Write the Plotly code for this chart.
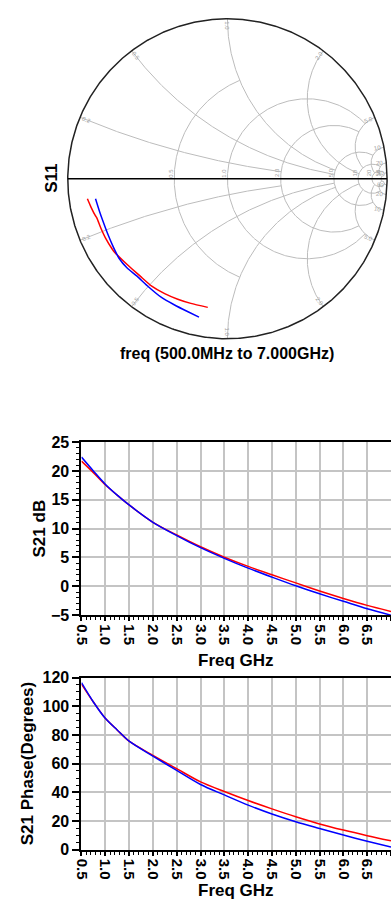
import numpy as np
import plotly.graph_objects as go

# ---------------- data ----------------
# S11 reflection coefficient (real / imaginary part), 500 MHz -> 7 GHz
s11_red_re = [-0.877, -0.853, -0.827, -0.818, -0.791, -0.765, -0.720, -0.704,
              -0.648, -0.597, -0.546, -0.474, -0.393, -0.311, -0.229, -0.123]
s11_red_im = [-0.125, -0.180, -0.231, -0.245, -0.313, -0.368, -0.442, -0.462,
              -0.517, -0.564, -0.609, -0.671, -0.718, -0.753, -0.779, -0.804]
s11_blue_re = [-0.826, -0.802, -0.777, -0.750, -0.720, -0.679, -0.628,
               -0.566, -0.495, -0.413, -0.331, -0.250, -0.178]
s11_blue_im = [-0.125, -0.201, -0.272, -0.344, -0.415, -0.497, -0.558,
               -0.609, -0.675, -0.742, -0.789, -0.830, -0.865]

freq_ghz = [0.5, 0.75, 1.0, 1.25, 1.5, 2.0, 2.5, 3.0, 3.5, 4.0, 4.5, 5.0, 5.5, 6.0, 6.5, 7.0]
s21_db_red = [21.7, 19.7, 17.6, 15.8, 14.1, 11.1, 8.9, 6.85, 5.05, 3.45, 2.0, 0.6, -0.8, -2.1, -3.3, -4.35]
s21_db_blue = [22.4, 20.0, 17.7, 15.8, 14.1, 11.1, 8.8, 6.7, 4.85, 3.15, 1.6, 0.1, -1.3, -2.6, -3.9, -5.0]
s21_ph_red = [115.5, 103.0, 91.6, 83.5, 75.7, 65.8, 56.5, 47.3, 40.6, 34.3, 28.5, 23.0, 18.0, 13.7, 9.8, 6.2]
s21_ph_blue = [116.5, 103.0, 91.6, 83.5, 75.7, 65.3, 55.3, 45.5, 38.2, 31.1, 24.9, 19.5, 14.8, 10.2, 5.9, 1.8]

freq_ticks = [0.5, 1.0, 1.5, 2.0, 2.5, 3.0, 3.5, 4.0, 4.5, 5.0, 5.5, 6.0, 6.5, 7.0]
freq_tick_labels = ["0.5", "1.0", "1.5", "2.0", "2.5", "3.0", "3.5", "4.0",
                    "4.5", "5.0", "5.5", "6.0", "6.5", "7.0"]
db_ticks = [-5, 0, 5, 10, 15, 20, 25]
ph_ticks = [0, 20, 40, 60, 80, 100, 120]

# Smith grid: resistance circles / reactance arcs and their clipping limits
smith_r = [0.5, 1, 2, 5, 10, 20, 50]
smith_r_xmax = [1, 5, 5, 10, 20, 50, 50]
smith_r_text = ["0.5", "1.0", "2.0", "5.0", "10", "20", "50"]
smith_x = [0.2, 0.5, 1, 2, 5, 10, 20, 50]
smith_x_rmax = [2, 5, 5, 10, 10, 20, 50, 50]
smith_x_text = ["0.2", "0.5", "1.0", "2.0", "5.0", "10", "20", "50"]

# ---------------- layout constants ----------------
W, H = 391, 913
SCX, SCY, SR = 224.0, 174.0, 163.0     # smith centre / radius in px
PAD = 1.03
X_LEFT = 75.0                           # px of 0.5 GHz
FONT = "Liberation Sans"
GRID = "#c4c4c4"


def fx(p):
    return p / W


def fy(p):
    return 1 - p / H


fig = go.Figure()

# ---- smith grid ----
gx, gy = [], []
for r, xm in zip(smith_r, smith_r_xmax):
    th = np.linspace(-np.arctan(xm), np.arctan(xm), 400)
    z = r + 1j * np.tan(th)
    g = (z - 1) / (z + 1)
    gx += list(g.real) + [None]
    gy += list(g.imag) + [None]
for xv, rm in zip(smith_x, smith_x_rmax):
    for s in (1, -1):
        ph = np.linspace(0, np.arctan(rm), 300)
        z = np.tan(ph) + 1j * s * xv
        g = (z - 1) / (z + 1)
        gx += list(g.real) + [None]
        gy += list(g.imag) + [None]
fig.add_trace(go.Scatter(x=gx, y=gy, mode="lines", line=dict(color="#bcbcbc", width=1),
                         hoverinfo="skip", showlegend=False, xaxis="x", yaxis="y"))
t = np.linspace(0, 2 * np.pi, 721)
fig.add_trace(go.Scatter(x=np.cos(t), y=np.sin(t), mode="lines",
                         line=dict(color="#222222", width=1.5),
                         hoverinfo="skip", showlegend=False, xaxis="x", yaxis="y"))
fig.add_trace(go.Scatter(x=[-1, 1], y=[0, 0], mode="lines", line=dict(color="black", width=1.5),
                         hoverinfo="skip", showlegend=False, xaxis="x", yaxis="y"))

# ---- S11 curves ----
fig.add_trace(go.Scatter(x=s11_red_re, y=s11_red_im, mode="lines",
                         line=dict(color="#ff0000", width=1.5, shape="spline", smoothing=0.6),
                         showlegend=False, xaxis="x", yaxis="y"))
fig.add_trace(go.Scatter(x=s11_blue_re, y=s11_blue_im, mode="lines",
                         line=dict(color="#0000ff", width=1.5, shape="spline", smoothing=0.6),
                         showlegend=False, xaxis="x", yaxis="y"))

# ---- S21 dB ----
fig.add_trace(go.Scatter(x=freq_ghz, y=s21_db_red, mode="lines", line=dict(color="#ff0000", width=1.5, shape="spline", smoothing=0.8),
                         showlegend=False, xaxis="x2", yaxis="y2"))
fig.add_trace(go.Scatter(x=freq_ghz, y=s21_db_blue, mode="lines", line=dict(color="#0000ff", width=1.5, shape="spline", smoothing=0.8),
                         showlegend=False, xaxis="x2", yaxis="y2"))
# ---- S21 phase ----
fig.add_trace(go.Scatter(x=freq_ghz, y=s21_ph_red, mode="lines", line=dict(color="#ff0000", width=1.5, shape="spline", smoothing=0.8),
                         showlegend=False, xaxis="x3", yaxis="y3"))
fig.add_trace(go.Scatter(x=freq_ghz, y=s21_ph_blue, mode="lines", line=dict(color="#0000ff", width=1.5, shape="spline", smoothing=0.8),
                         showlegend=False, xaxis="x3", yaxis="y3"))

tickfont = dict(family=FONT, size=15, color="black", weight="bold")


def xax():
    return dict(domain=[fx(X_LEFT), 1], range=[0.5, 7.0],
                tickmode="array", tickvals=freq_ticks, ticktext=freq_tick_labels, tickangle=90,
                showgrid=True, gridcolor=GRID, gridwidth=1.5, zeroline=False,
                showline=True, linecolor="black", linewidth=2, mirror=True,
                ticks="outside", ticklen=4, tickwidth=1.5, tickcolor="black",
                minor=dict(tickmode="linear", tick0=0.5, dtick=0.1, ticks="outside", ticklen=3,
                           tickwidth=1, tickcolor="black", showgrid=False),
                tickfont=tickfont, fixedrange=True)


def yax(lo, hi, top, bot, ticks, mdt):
    return dict(domain=[fy(bot), fy(top)], range=[lo, hi], tickmode="array", tickvals=ticks,
                showgrid=True, gridcolor=GRID, gridwidth=1.5, zeroline=False,
                showline=True, linecolor="black", linewidth=2,
                ticks="outside", ticklen=7, tickwidth=1.5, tickcolor="black",
                minor=dict(tickmode="linear", tick0=lo, dtick=mdt, ticks="outside", ticklen=3,
                           tickwidth=1, tickcolor="black", showgrid=False),
                tickfont=dict(tickfont, size=16), fixedrange=True)


ann = []
# smith labels
for r, txt in zip(smith_r, smith_r_text):
    g = (r - 1) / (r + 1)
    ann.append(dict(x=g - 3.5 / SR, y=6 / SR, xref="x", yref="y", text=txt, showarrow=False,
                    xanchor="center", yanchor="middle",
                    textangle=-90, font=dict(family=FONT, size=6, color="#a0a0a0")))
for xv, txt in zip(smith_x, smith_x_text):
    for s in (1, -1):
        th = s * (np.pi - 2 * np.arctan(xv))
        a = -np.degrees(th)
        while a > 90:
            a -= 180
        while a <= -90:
            a += 180
        rr = 1 - 7 / SR
        ann.append(dict(x=rr * np.cos(th), y=rr * np.sin(th), xref="x", yref="y", text=txt,
                        showarrow=False, textangle=a, xanchor="center", yanchor="middle",
                        font=dict(family=FONT, size=6, color="#a0a0a0")))

titlefont = dict(family=FONT, size=17, color="black", weight="bold")


def lab(x, y, text, angle=0, font=titlefont):
    return dict(x=fx(x), y=fy(y), xref="paper", yref="paper", text=text, showarrow=False,
                xanchor="center", yanchor="middle", textangle=angle, font=font)


ann += [
    lab(45, 174, "S11", -90),
    lab(224, 352, "freq (500.0MHz to 7.000GHz)", 0,
        dict(family=FONT, size=16, color="black", weight="bold")),
    lab(32, 530, "S21 dB", -90),
    lab(233, 665, "Freq GHz"),
    lab(20, 770, "S21 Phase(Degrees)", -90),
    lab(233, 899, "Freq GHz"),
]

fig.update_layout(
    width=W, height=H, margin=dict(l=0, r=0, t=0, b=0, pad=0),
    paper_bgcolor="white", plot_bgcolor="white", showlegend=False,
    xaxis=dict(domain=[fx(SCX - PAD * SR), 1], range=[-PAD, (W - SCX) / SR], visible=False,
               fixedrange=True),
    yaxis=dict(domain=[fy(SCY + PAD * SR), fy(SCY - PAD * SR)], range=[-PAD, PAD], visible=False,
               fixedrange=True),
    xaxis2=dict(xax(), anchor="y2"),
    yaxis2=dict(yax(-5, 25, 442.3, 618.7, db_ticks, 1), anchor="x2"),
    xaxis3=dict(xax(), anchor="y3"),
    yaxis3=dict(yax(0, 120, 682.3, 857.7, ph_ticks, 5), anchor="x3"),
    annotations=ann,
)

fig.write_html("out.html", include_plotlyjs=True, full_html=True,
               config={"displayModeBar": False},
               post_script="document.body.style.margin='0';")
